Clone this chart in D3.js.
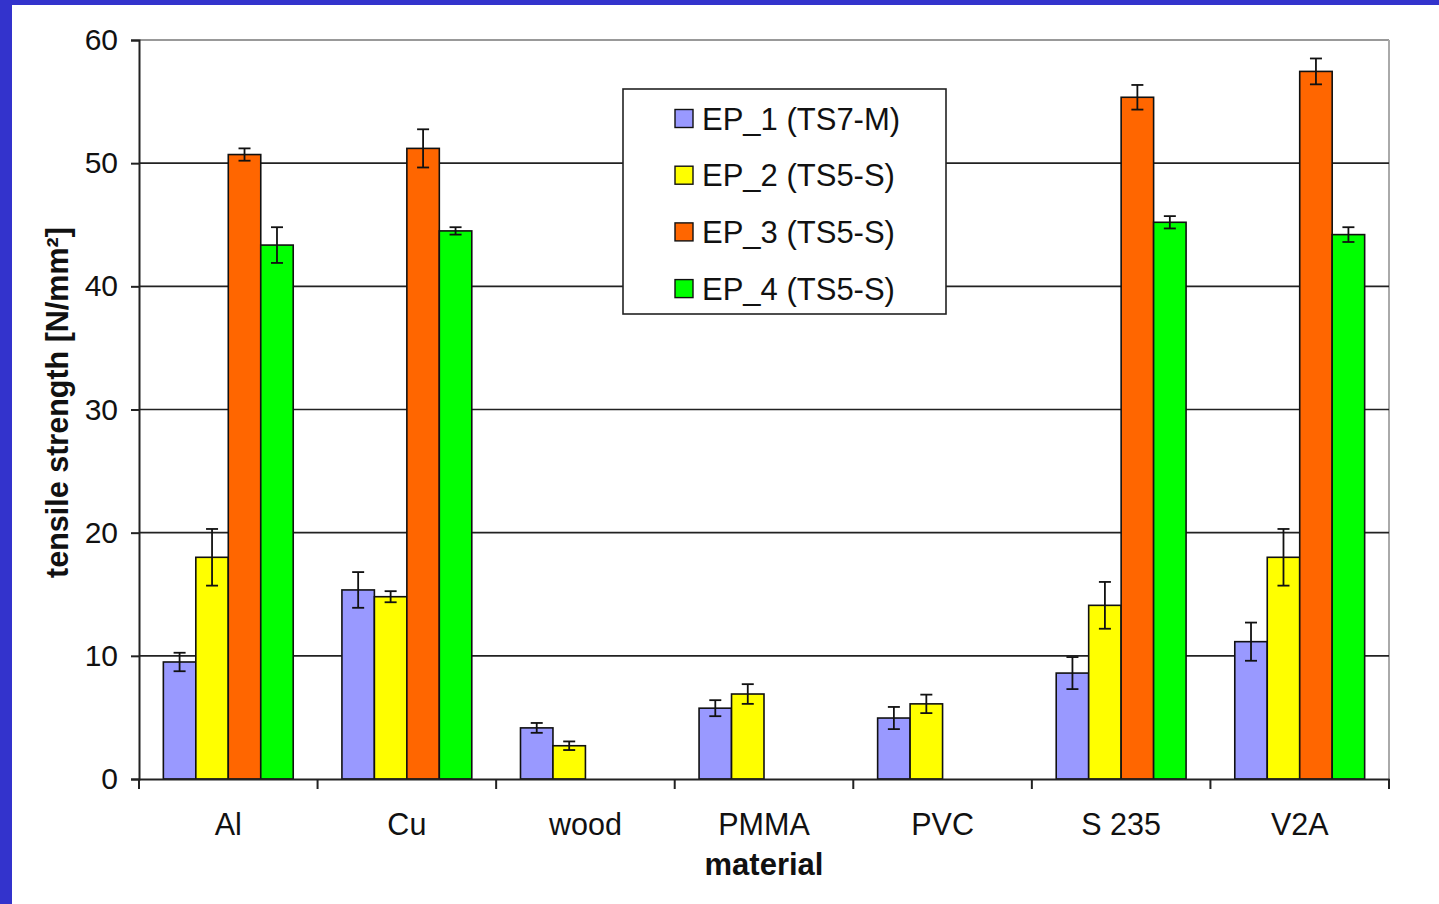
<!DOCTYPE html>
<html><head><meta charset="utf-8">
<script src="https://cdn.jsdelivr.net/npm/d3@7"></script>
<style>
html,body{margin:0;padding:0;background:#fff;}
svg{display:block;font-family:"Liberation Sans",Arial,sans-serif;}
</style></head>
<body><svg id="c" width="1439" height="904"></svg>
<script>
const categories = ["Al","Cu","wood","PMMA","PVC","S 235","V2A"];
const seriesNames = ["EP_1 (TS7-M)","EP_2 (TS5-S)","EP_3 (TS5-S)","EP_4 (TS5-S)"];
const seriesColors = ["#9999ff","#ffff00","#ff6600","#00ff00"];
const ep1 = [9.5, 15.35, 4.15, 5.75, 4.95, 8.6, 11.15];
const ep2 = [18.0, 14.8, 2.7, 6.9, 6.1, 14.1, 18.0];
const ep3 = [50.7, 51.2, null, null, null, 55.35, 57.45];
const ep4 = [43.35, 44.5, null, null, null, 45.2, 44.2];
const err1 = [0.75, 1.45, 0.4, 0.65, 0.9, 1.3, 1.55];
const err2 = [2.3, 0.45, 0.35, 0.8, 0.75, 1.9, 2.3];
const err3 = [0.5, 1.55, null, null, null, 1.0, 1.05];
const err4 = [1.45, 0.3, null, null, null, 0.5, 0.6];
const yTicks = [0,10,20,30,40,50,60];
const yTitle = "tensile strength [N/mm²]";
const xTitle = "material";

const values = [ep1, ep2, ep3, ep4];
const errors = [err1, err2, err3, err4];

const svg = d3.select("#c");
// blue frame
svg.append("rect").attr("x",0).attr("y",0).attr("width",1439).attr("height",904).attr("fill","#3333cc");
svg.append("rect").attr("x",12).attr("y",5).attr("width",1427).attr("height",899).attr("fill","#ffffff");

const L=139, R=1389, T=40, B=779;
const x0 = d3.scaleBand().domain(categories).range([L,R]).padding(0);
const x1 = d3.scaleBand().domain(d3.range(4)).range([0,x0.bandwidth()]).paddingInner(0).paddingOuter(0.75);
const y = d3.scaleLinear().domain([0,60]).range([B,T]);

// plot border (top/right grey)
svg.append("line").attr("x1",L).attr("x2",R).attr("y1",T).attr("y2",T).attr("stroke","#999").attr("stroke-width",2);
svg.append("line").attr("x1",R).attr("x2",R).attr("y1",T).attr("y2",B).attr("stroke","#aaa").attr("stroke-width",2);

// gridlines
svg.append("g").selectAll("line").data(yTicks.filter(d=>d>0&&d<60)).join("line")
  .attr("x1",L).attr("x2",R).attr("y1",d=>y(d)).attr("y2",d=>y(d))
  .attr("stroke","#222").attr("stroke-width",1.6);

// bars
const rows = [];
categories.forEach((c,i)=>{
  values.forEach((s,j)=>{
    if(s[i]!=null) rows.push({c, j, v:s[i], e:errors[j][i]});
  });
});
svg.append("g").selectAll("rect").data(rows).join("rect")
  .attr("x",d=>x0(d.c)+x1(d.j))
  .attr("y",d=>y(d.v))
  .attr("width",x1.bandwidth())
  .attr("height",d=>y(0)-y(d.v))
  .attr("fill",d=>seriesColors[d.j])
  .attr("stroke","#111").attr("stroke-width",1.6);

// error bars
const eg = svg.append("g").attr("stroke","#111").attr("stroke-width",1.8);
rows.forEach(d=>{
  const cx = x0(d.c)+x1(d.j)+x1.bandwidth()/2;
  eg.append("line").attr("x1",cx).attr("x2",cx).attr("y1",y(d.v+d.e)).attr("y2",y(d.v-d.e));
  [d.v+d.e, d.v-d.e].forEach(v=>{
    eg.append("line").attr("x1",cx-6).attr("x2",cx+6).attr("y1",y(v)).attr("y2",y(v));
  });
});

// y axis
const ya = svg.append("g").attr("transform",`translate(${L},0)`)
  .call(d3.axisLeft(y).tickValues(yTicks).tickSize(8).tickPadding(13).tickFormat(d3.format("d")));
ya.select(".domain").attr("stroke","#222").attr("stroke-width",2);
ya.selectAll(".tick line").attr("stroke","#222").attr("stroke-width",2);
ya.selectAll("text").attr("font-size",30).attr("fill","#111").attr("font-family","Liberation Sans, Arial, sans-serif");

// x axis
const xa = svg.append("g").attr("transform",`translate(0,${B})`)
  .call(d3.axisBottom(x0).tickSize(0).tickPadding(0));
xa.select(".domain").attr("stroke","#222").attr("stroke-width",2);
xa.selectAll("text").attr("y",56).attr("dy",null).attr("font-size",30.5).attr("fill","#111")
  .attr("font-family","Liberation Sans, Arial, sans-serif");
// boundary ticks
const bounds = categories.map(c=>x0(c)).concat([R]);
svg.append("g").selectAll("line").data(bounds).join("line")
  .attr("x1",d=>d).attr("x2",d=>d).attr("y1",B).attr("y2",B+10)
  .attr("stroke","#222").attr("stroke-width",2);

// titles
svg.append("text").attr("x",(L+R)/2).attr("y",875).attr("text-anchor","middle")
  .attr("font-size",31).attr("font-weight","bold").attr("fill","#111").text(xTitle);
svg.append("text").attr("transform",`translate(68,${(T+B)/2 - 7}) rotate(-90)`).attr("text-anchor","middle")
  .attr("font-size",30.5).attr("font-weight","bold").attr("fill","#111").text(yTitle);

// legend
const lg = svg.append("g");
lg.append("rect").attr("x",623).attr("y",89).attr("width",323).attr("height",225)
  .attr("fill","#fff").attr("stroke","#222").attr("stroke-width",1.6);
seriesNames.forEach((n,i)=>{
  const cy = 118.5 + i*56.7;
  lg.append("rect").attr("x",675).attr("y",cy-9).attr("width",18).attr("height",18)
    .attr("fill",seriesColors[i]).attr("stroke","#111").attr("stroke-width",1.4);
  lg.append("text").attr("x",702).attr("y",cy).attr("dy","0.36em")
    .attr("font-size",31).attr("fill","#111").text(n);
});
</script></body></html>
